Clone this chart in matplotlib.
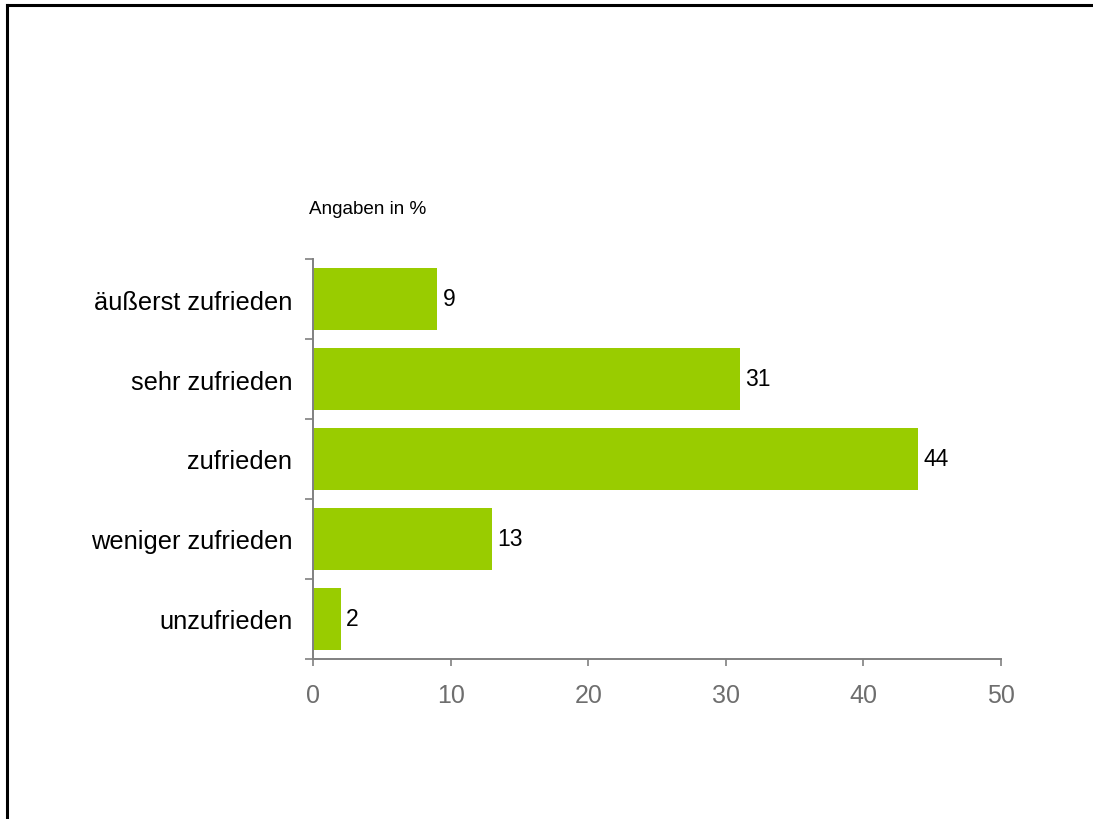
import matplotlib
matplotlib.use("Agg")
import matplotlib.pyplot as plt
from matplotlib.lines import Line2D
import numpy as np

plt.rcParams['font.family'] = ['Liberation Sans', 'DejaVu Sans']

categories = ["äußerst zufrieden", "sehr zufrieden", "zufrieden", "weniger zufrieden", "unzufrieden"]
values = [9, 31, 44, 13, 2]
x_ticks = [0, 10, 20, 30, 40, 50]
unit_note = "Angaben in %"

bar_color = "#99CC00"
axis_gray = "#808080"
tick_text_gray = "#6E6E6E"

fig = plt.figure(figsize=(10.93, 8.2), dpi=100)
ax = fig.add_axes([313 / 1093, 160 / 820, 688 / 1093, 400 / 820])

n = len(categories)
ypos = np.arange(n)[::-1]
ax.barh(ypos, values, height=0.78, color=bar_color, edgecolor="none")

for y, v in zip(ypos, values):
    ax.annotate(f"{v}", xy=(v, y), xytext=(4, 0), textcoords="offset points",
                va="center", ha="left", fontsize=16.5, color="black")

ax.set_xlim(0, 50)
ax.set_ylim(-0.5, n - 0.5)
ax.set_xticks(x_ticks)
ax.set_xticklabels([str(t) for t in x_ticks], fontsize=18, color=tick_text_gray)
ax.tick_params(axis="x", direction="out", length=5, width=1.2, color=axis_gray, pad=12)

ax.set_yticks(ypos)
ax.set_yticklabels(categories, fontsize=18.3, color="black")
ax.tick_params(axis="y", which="major", length=0, pad=15)
ax.set_yticks(np.arange(-0.5, n, 1.0), minor=True)
ax.tick_params(axis="y", which="minor", direction="out", length=6, width=1.2, color=axis_gray)

for side in ("top", "right"):
    ax.spines[side].set_visible(False)
for side in ("left", "bottom"):
    ax.spines[side].set_color(axis_gray)
    ax.spines[side].set_linewidth(1.4)

fig.text(309 / 1093, 1 - 210 / 820, unit_note, fontsize=13.6, color="black",
         ha="left", va="center")

# outer frame: top and left edges
fig.add_artist(Line2D([7 / 1093, 1.0], [1 - 6 / 820, 1 - 6 / 820], transform=fig.transFigure,
                      color="black", linewidth=2.2))
fig.add_artist(Line2D([7 / 1093, 7 / 1093], [0.0, 1 - 6 / 820], transform=fig.transFigure,
                      color="black", linewidth=2.2))

fig.savefig("out.png", dpi=100, facecolor="white")
